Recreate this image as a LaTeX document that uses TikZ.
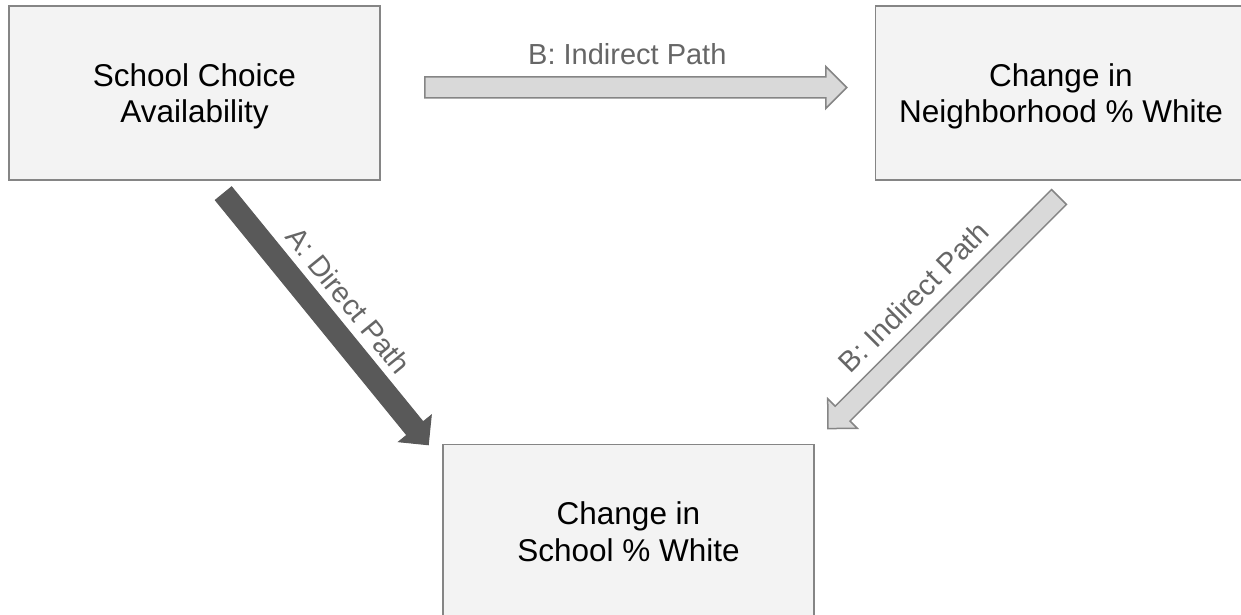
\documentclass[tikz,border=0pt]{standalone}
\usepackage{fontspec}
\setmainfont{Liberation Sans}
\usetikzlibrary{positioning,calc}
\definecolor{boxfill}{HTML}{F3F3F3}
\definecolor{boxline}{HTML}{858585}
\definecolor{pathlight}{HTML}{D9D9D9}
\definecolor{pathdark}{HTML}{595959}
\definecolor{pathtext}{HTML}{666666}
% block arrow: shaft 21pt, head 42pt wide, 21pt long
\newcommand{\blockarrow}[3][]{%
  \coordinate (hb) at ($(#3)!21pt!(#2)$);
  \draw[#1] ($(#2)!10.5pt!90:(#3)$) -- ($(hb)!10.5pt!-90:(#2)$)
    -- ($(hb)!21pt!-90:(#2)$) -- (#3) -- ($(hb)!21pt!90:(#2)$)
    -- ($(hb)!10.5pt!90:(#2)$) -- ($(#2)!10.5pt!-90:(#3)$) -- cycle;
}

\begin{document}
\begin{tikzpicture}[
      x=1pt, y=1pt,
      box/.style={
        draw=boxline, line width=1.5pt, fill=boxfill, align=center,
        minimum width=371pt, minimum height=174pt, text depth=0pt,
        font=\fontsize{31.5}{36.5}\selectfont
      },
      lbl/.style={text=pathtext, inner sep=0pt, sloped,
        font=\fontsize{29}{33}\selectfont},
      lightpath/.style={draw=boxline, line width=1.5pt, fill=pathlight, line join=miter},
      darkpath/.style={draw=pathdark, line width=1pt, fill=pathdark, line join=miter}
      ]
  \useasboundingbox (0,0) rectangle (1241,-615);

  % Define nodes
  \node[box] at (194.5,-93)                       (choice) {School Choice\\Availability};
  \node[box, right=494pt of choice]               (nbhd)   {Change in\\Neighborhood \% White};
  \node[box, below=263pt of choice, xshift=434pt] (school) {Change in\\School \% White};

  % Arrow ends
  \coordinate (btail) at ($(choice.east)+(44,5.5)$);
  \coordinate (btip)  at ($(nbhd.west)+(-28,5.5)$);
  \coordinate (atail) at ($(choice.south)+(29,-12.75)$);
  \coordinate (atip)  at ($(school.north west)+(-14,-1)$);
  \coordinate (ctail) at ($(nbhd.south)+(-2,-16.25)$);
  \coordinate (ctip)  at ($(school.north east)+(13,15.25)$);

  % Connect the nodes
  \blockarrow[lightpath]{btail}{btip}
  \blockarrow[darkpath]{atail}{atip}
  \blockarrow[lightpath]{ctail}{ctip}

  % Labels
  \path (btail) -- (btip) node[lbl, pos=.48, above=22.6pt] {B: Indirect Path};
  \path (atail) -- (atip) node[lbl, pos=.5, above=18.5pt] {A: Direct Path};
  \path (ctail) -- (ctip) node[lbl, pos=.53, above=21.3pt] {B: Indirect Path};

\end{tikzpicture}
\end{document}
